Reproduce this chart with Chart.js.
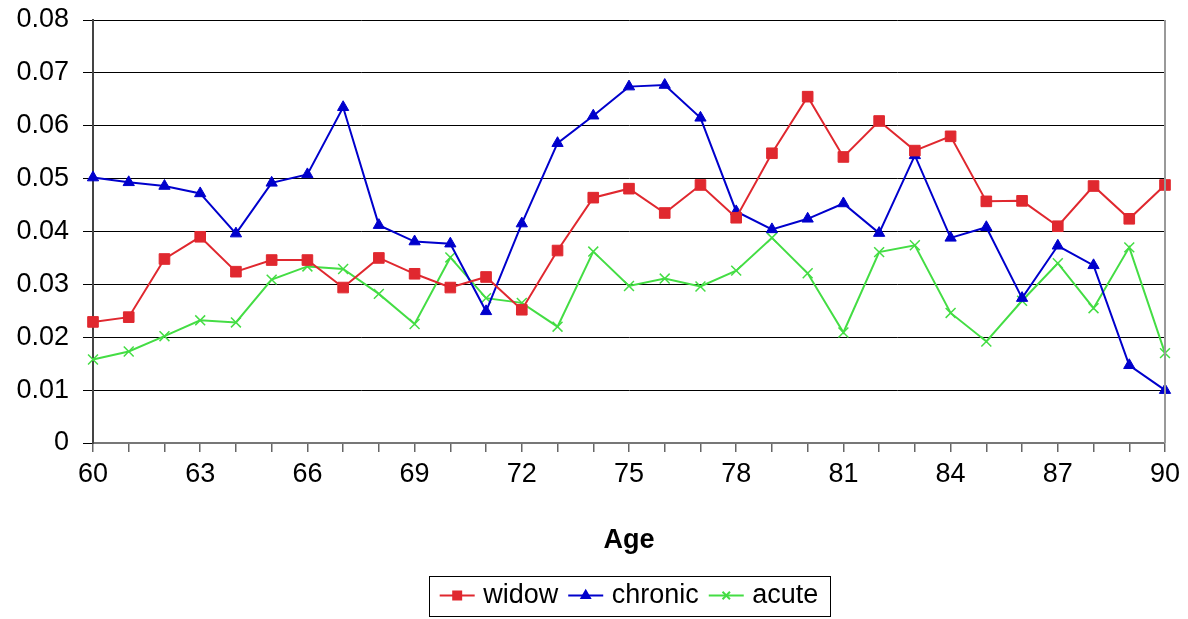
<!DOCTYPE html>
<html>
<head>
<meta charset="utf-8">
<script src="https://cdn.jsdelivr.net/npm/chart.js@4"></script>
<style>
  html, body { margin: 0; padding: 0; background: #fff; }
  #wrap { width: 1188px; height: 619px; }
</style>
</head>
<body>
<div id="wrap"><canvas id="myChart" width="1188" height="619"></canvas></div>
<script>
// ages on the x axis
var ages = [];
for (var a = 60; a <= 90; a++) ages.push(a);

// values
var widow = [0.0229, 0.0238, 0.0348, 0.0390, 0.0324, 0.0346, 0.0346, 0.0294, 0.0350, 0.0320,
             0.0294, 0.0314, 0.0252, 0.0364, 0.0464, 0.0481, 0.0435, 0.0488, 0.0426, 0.0548,
             0.0655, 0.0541, 0.0609, 0.0553, 0.0580, 0.0457, 0.0458, 0.0410, 0.0486, 0.0424, 0.0488];
var chronic = [0.0502, 0.0493, 0.0486, 0.0472, 0.0396, 0.0492, 0.0508, 0.0635, 0.0412, 0.0381,
               0.0377, 0.0249, 0.0415, 0.0567, 0.0619, 0.0674, 0.0677, 0.0615, 0.0438, 0.0404,
               0.0424, 0.0453, 0.0397, 0.0544, 0.0388, 0.0408, 0.0274, 0.0373, 0.0336, 0.0147, 0.0100];
var acute = [0.0158, 0.0173, 0.0202, 0.0232, 0.0228, 0.0309, 0.0334, 0.0329, 0.0282, 0.0225,
             0.0351, 0.0274, 0.0265, 0.0220, 0.0362, 0.0297, 0.0311, 0.0296, 0.0326, 0.0388,
             0.0321, 0.0209, 0.0361, 0.0374, 0.0246, 0.0192, 0.0269, 0.0340, 0.0255, 0.0370, 0.0170];

var FONT = "'Liberation Sans', Arial, sans-serif";

// centres the legend under the plot area, draws its line+marker samples and its box
var legendDecor = {
    id: 'legendDecor',
    afterUpdate: function (chart) {
        var lg = chart.legend, ca = chart.chartArea;
        if (!lg) return;
        var dx = (ca.left + ca.right) / 2 - (lg.left + lg.right) / 2;
        lg.left += dx; lg.right += dx;
        lg.legendHitBoxes.forEach(function (hb) { hb.left += dx; });
    },
    afterDraw: function (chart) {
        var lg = chart.legend, ctx = chart.ctx;
        if (!lg || !lg.legendHitBoxes.length) return;
        var boxes = lg.legendHitBoxes;
        ctx.save();
        boxes.forEach(function (hb, i) {
            var ds = chart.data.datasets[i];
            var y = hb.top + hb.height / 2;
            ctx.strokeStyle = ds.borderColor;
            ctx.fillStyle = ds.backgroundColor;
            ctx.lineWidth = 2;
            ctx.beginPath();
            ctx.moveTo(hb.left, y);
            ctx.lineTo(hb.left + 35, y);
            ctx.stroke();
            Chart.helpers.drawPoint(ctx, {
                pointStyle: ds.pointStyle, rotation: 0,
                radius: ds.pointRadius * 0.75, borderWidth: 1.5
            }, hb.left + 17.5, y);
        });
        var first = boxes[0], last = boxes[boxes.length - 1];
        ctx.strokeStyle = '#000';
        ctx.lineWidth = 1;
        ctx.strokeRect(Math.round(first.left - 11) + 0.5, Math.round(first.top - 6) + 0.5,
                       Math.round(last.left + last.width - first.left + 22),
                       Math.round(first.height + 13));
        // right border of the plot area
        var ca = chart.chartArea;
        ctx.strokeStyle = '#999';
        ctx.lineWidth = 2;
        ctx.beginPath();
        ctx.moveTo(ca.right, ca.top);
        ctx.lineTo(ca.right, ca.bottom);
        ctx.stroke();
        ctx.restore();
    }
};

var ctx = document.getElementById('myChart').getContext('2d');
var myChart = new Chart(ctx, {
    type: 'line',
    data: {
        labels: ages,
        datasets: [{
            label: 'widow',
            data: widow,
            borderColor: '#E0282F',
            backgroundColor: '#E0282F',
            borderWidth: 2,
            pointStyle: 'rect',
            pointRadius: 7.5,
            pointBorderWidth: 1,
            tension: 0
        }, {
            label: 'chronic',
            data: chronic,
            borderColor: '#0000CC',
            backgroundColor: '#0000CC',
            borderWidth: 2,
            pointStyle: 'triangle',
            pointRadius: 6.5,
            pointBorderWidth: 1,
            tension: 0
        }, {
            label: 'acute',
            data: acute,
            borderColor: '#44DD44',
            backgroundColor: '#44DD44',
            borderWidth: 2,
            pointStyle: 'crossRot',
            pointRadius: 7,
            pointBorderWidth: 1.5,
            tension: 0
        }]
    },
    options: {
        responsive: false,
        animation: false,
        layout: { padding: { left: 0, right: 23, top: 20, bottom: 0 } },
        plugins: {
            tooltip: { enabled: false },
            legend: {
                position: 'bottom',
                labels: {
                    font: { family: FONT, size: 27 },
                    color: '#000',
                    boxWidth: 30,
                    boxHeight: 26,
                    padding: 10,
                    generateLabels: function (chart) {
                        return Chart.defaults.plugins.legend.labels.generateLabels(chart).map(function (l) {
                            l.fillStyle = 'rgba(0,0,0,0)';
                            l.strokeStyle = 'rgba(0,0,0,0)';
                            l.lineWidth = 0;
                            return l;
                        });
                    }
                }
            }
        },
        scales: {
            x: {
                type: 'category',
                offset: false,
                grid: { drawOnChartArea: false, drawTicks: true, tickLength: 9, color: '#666', lineWidth: 1.5 },
                border: { display: true, color: '#777', width: 2 },
                ticks: {
                    autoSkip: false, maxRotation: 0, padding: 6,
                    font: { family: FONT, size: 27 }, color: '#000',
                    callback: function (v, i) { return i % 3 === 0 ? ages[i] : ''; }
                },
                title: {
                    display: true, text: 'Age', color: '#000',
                    font: { family: FONT, size: 27, weight: 'bold' },
                    padding: { top: 18, bottom: 15 }
                },
                afterFit: function (s) { s.height = 129; }
            },
            y: {
                min: 0,
                max: 0.08,
                grid: { color: '#000', lineWidth: 1, drawTicks: true, tickLength: 10 },
                border: { display: true, color: '#444', width: 2 },
                ticks: {
                    stepSize: 0.01, padding: 14,
                    font: { family: FONT, size: 27 }, color: '#000',
                    callback: function (v) { return v === 0 ? '0' : v.toFixed(2); }
                },
                afterFit: function (s) {
                    s.width = 93;
                    s.paddingTop = 16;
                    s.paddingBottom = 16;
                }
            }
        }
    },
    plugins: [legendDecor]
});
</script>
</body>
</html>
